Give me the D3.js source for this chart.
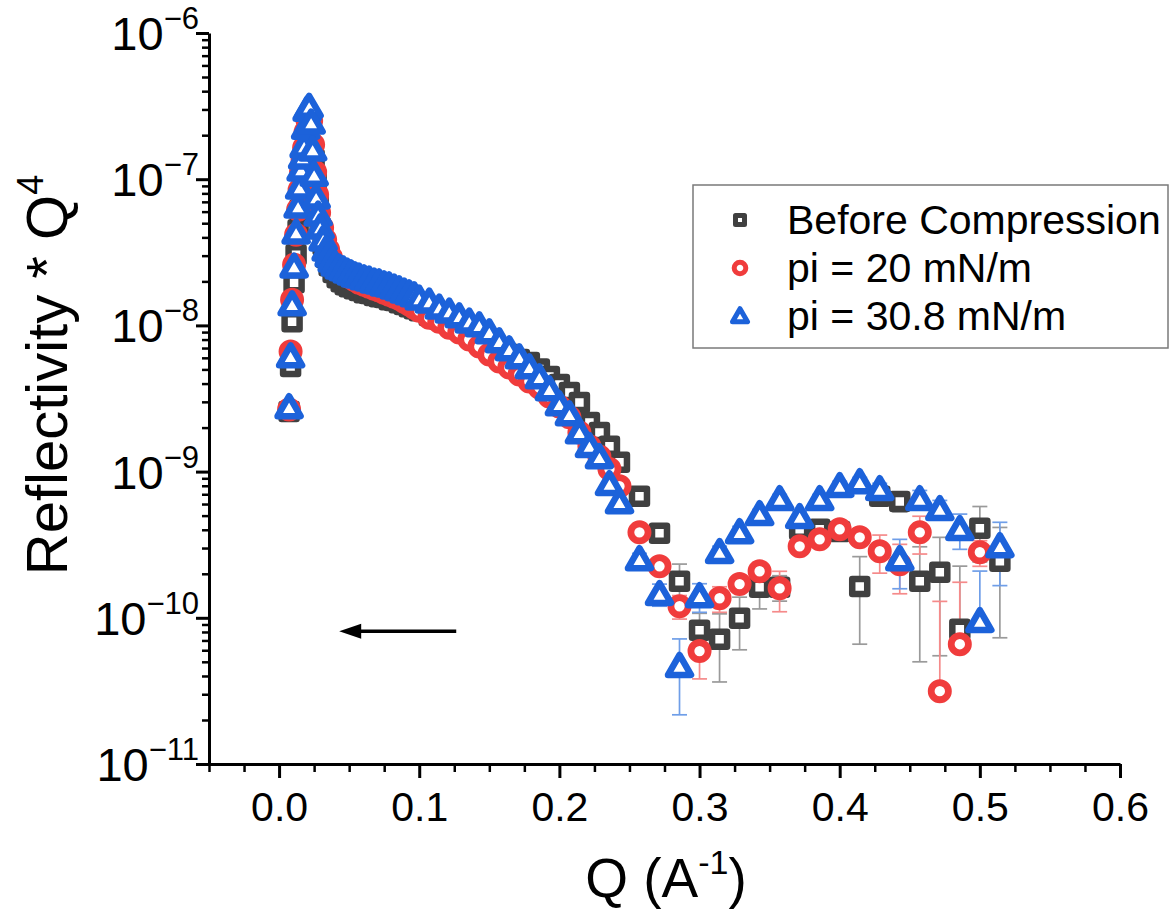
<!DOCTYPE html>
<html>
<head>
<meta charset="utf-8">
<script src="https://cdn.jsdelivr.net/npm/d3@7"></script>
<style>
  body { margin: 0; background: #fff; }
  svg { display: block; }
  text { font-family: "Liberation Sans", Arial, Helvetica, sans-serif; fill: #000; }
</style>
</head>
<body>
<svg id="chart" width="1170" height="921"></svg>
<script>
// Neutron reflectivity (R*Q^4) of the monolayer at three surface pressures.

const blackQ = [0.00714,0.00821,0.00929,0.01071,0.01214,0.01357,0.01500,0.01643,0.01786,0.01929,0.02071,0.02214,0.02357,0.02500,0.02643,0.02786,0.02929,0.03143,0.03357,0.03571,0.03857,0.04143,0.04429,0.04714,0.05000,0.05357,0.05714,0.06071,0.06429,0.06786,0.07143,0.07500,0.07857,0.08214,0.08571,0.08929,0.09286,0.09643,0.10000,0.10714,0.11429,0.12143,0.12857,0.13571,0.14286,0.15000,0.15714,0.16429,0.17143,0.17857,0.18571,0.19286,0.20000,0.20714,0.21429,0.22143,0.22857,0.23571,0.24286,
  0.25714,0.27143,0.28571,0.30000,0.31429,0.32857,0.34286,0.35714,0.37143,0.38571,0.40000,0.41429,0.42857,0.44286,0.45714,0.47143,0.48571,0.50000,0.51429];
const blackR = [2.58e-9,5.23e-9,1.06e-8,1.96e-8,3.04e-8,4.51e-8,6.18e-8,8.45e-8,1.12e-7,1.40e-7,1.59e-7,1.72e-7,1.64e-7,1.36e-7,9.80e-8,6.68e-8,4.66e-8,3.56e-8,2.91e-8,2.56e-8,2.30e-8,2.12e-8,1.99e-8,1.90e-8,1.84e-8,1.78e-8,1.73e-8,1.67e-8,1.65e-8,1.60e-8,1.57e-8,1.55e-8,1.50e-8,1.48e-8,1.43e-8,1.39e-8,1.34e-8,1.30e-8,1.26e-8,1.17e-8,1.10e-8,1.03e-8,9.51e-9,8.80e-9,8.00e-9,7.39e-9,6.83e-9,6.32e-9,5.84e-9,5.57e-9,5.04e-9,4.48e-9,3.94e-9,3.48e-9,2.97e-9,2.17e-9,1.85e-9,1.49e-9,1.16e-9,
  6.77e-10,3.78e-10,1.78e-10,8.23e-11,7.14e-11,9.94e-11,1.62e-10,1.62e-10,4.03e-10,4.03e-10,3.90e-10,1.64e-10,6.77e-10,6.25e-10,1.78e-10,2.05e-10,8.36e-11,4.09e-10,2.44e-10];

const redQ = [0.00714,0.00821,0.00929,0.01071,0.01214,0.01357,0.01464,0.01571,0.01679,0.01786,0.01893,0.02000,0.02143,0.02286,0.02429,0.02571,0.02714,0.02857,0.03071,0.03286,0.03500,0.03714,0.04000,0.04286,0.04643,0.05000,0.05357,0.05714,0.06071,0.06429,0.06786,0.07143,0.07500,0.07857,0.08214,0.08571,0.08929,0.09286,0.09643,0.10000,0.10714,0.11429,0.12143,0.12857,0.13571,0.14286,0.15000,0.15714,0.16429,0.17143,0.17857,0.18571,0.19286,0.20000,0.20714,0.21429,0.22143,0.22857,0.23571,0.24286,
  0.25714,0.27143,0.28571,0.30000,0.31429,0.32857,0.34286,0.35714,0.37143,0.38571,0.40000,0.41429,0.42857,0.44286,0.45714,0.47143,0.48571,0.50000];
const redR = [2.66e-9,6.62e-9,1.50e-8,2.60e-8,4.17e-8,6.18e-8,8.45e-8,1.12e-7,1.36e-7,1.64e-7,2.10e-7,2.58e-7,2.71e-7,2.50e-7,1.72e-7,1.12e-7,7.82e-8,5.89e-8,4.66e-8,3.86e-8,3.29e-8,2.91e-8,2.60e-8,2.41e-8,2.26e-8,2.15e-8,2.05e-8,1.96e-8,1.90e-8,1.84e-8,1.78e-8,1.73e-8,1.67e-8,1.62e-8,1.57e-8,1.52e-8,1.45e-8,1.39e-8,1.32e-8,1.26e-8,1.13e-8,1.06e-8,9.65e-9,8.93e-9,8.00e-9,7.16e-9,6.32e-9,5.66e-9,5.15e-9,4.61e-9,4.13e-9,3.76e-9,3.26e-9,2.79e-9,2.35e-9,1.85e-9,1.49e-9,1.27e-9,1.04e-9,7.94e-10,
  3.84e-10,2.25e-10,1.20e-10,5.92e-11,1.36e-10,1.70e-10,2.08e-10,1.59e-10,3.08e-10,3.44e-10,4.03e-10,3.55e-10,2.85e-10,2.32e-10,3.84e-10,3.15e-11,6.60e-11,2.81e-10];

const blueQ = [0.00714,0.00821,0.00929,0.01071,0.01214,0.01357,0.01464,0.01571,0.01679,0.01786,0.01893,0.02000,0.02143,0.02286,0.02393,0.02500,0.02643,0.02786,0.02929,0.03143,0.03357,0.03571,0.03786,0.04000,0.04286,0.04571,0.04857,0.05143,0.05429,0.05714,0.06071,0.06429,0.06786,0.07143,0.07500,0.07857,0.08214,0.08571,0.08929,0.09286,0.09643,0.10000,0.10714,0.11429,0.12143,0.12857,0.13571,0.14286,0.15000,0.15714,0.16429,0.17143,0.17857,0.18571,0.19286,0.20000,0.20714,0.21429,0.22143,0.22857,0.23571,0.24286,
  0.25714,0.27143,0.28571,0.30000,0.31429,0.32857,0.34286,0.35714,0.37143,0.38571,0.40000,0.41429,0.42857,0.44286,0.45714,0.47143,0.48571,0.50000,0.51429];
const blueR = [2.75e-9,6.12e-9,1.39e-8,2.52e-8,4.30e-8,6.48e-8,8.74e-8,1.16e-7,1.40e-7,1.67e-7,2.24e-7,2.98e-7,3.12e-7,2.43e-7,1.59e-7,1.07e-7,7.47e-8,5.71e-8,4.66e-8,3.86e-8,3.29e-8,3.00e-8,2.77e-8,2.60e-8,2.48e-8,2.41e-8,2.33e-8,2.26e-8,2.19e-8,2.15e-8,2.09e-8,2.05e-8,1.99e-8,1.96e-8,1.90e-8,1.87e-8,1.81e-8,1.76e-8,1.70e-8,1.65e-8,1.60e-8,1.52e-8,1.45e-8,1.32e-8,1.24e-8,1.15e-8,1.06e-8,9.97e-9,8.93e-9,7.75e-9,6.83e-9,6.03e-9,5.15e-9,4.40e-9,3.64e-9,2.88e-9,2.46e-9,1.85e-9,1.49e-9,1.25e-9,8.18e-10,6.16e-10,
  2.51e-10,1.45e-10,4.67e-11,1.40e-10,2.81e-10,3.84e-10,5.10e-10,6.46e-10,4.87e-10,6.46e-10,7.94e-10,8.44e-10,7.56e-10,2.51e-10,6.46e-10,5.52e-10,4.03e-10,9.47e-11,3.08e-10];

// Error bars (absolute sigma) of the high-Q points
const sparseQ = [0.25714,0.27143,0.28571,0.30000,0.31429,0.32857,0.34286,0.35714,0.37143,0.38571,0.40000,0.41429,0.42857,0.44286,0.45714,0.47143,0.48571,0.50000,0.51429];
const blackSigma = [5.4e-11,3.8e-11,5.5e-11,2.5e-11,3.5e-11,3.9e-11,4.7e-11,3.2e-11,4.0e-11,4.0e-11,4.7e-11,9.8e-11,6.8e-11,9.4e-11,1.28e-10,1.50e-10,1.42e-10,1.68e-10,1.71e-10];
const redSigma   = [2.3e-11,2.3e-11,2.2e-11,2.1e-11,2.7e-11,2.0e-11,3.1e-11,4.9e-11,2.5e-11,2.8e-11,3.2e-11,4.3e-11,8.3e-11,8.6e-11,1.11e-10,9.8e-11,1.09e-10,5.6e-11];
const blueSigma  = [2.5e-11,2.5e-11,2.5e-11,3.1e-11,2.8e-11,3.8e-11,4.1e-11,5.2e-11,4.9e-11,5.2e-11,6.4e-11,6.8e-11,7.6e-11,9.3e-11,9.7e-11,8.3e-11,1.09e-10,1.14e-10,1.42e-10];

const seriesNames = ["Before Compression", "pi = 20 mN/m", "pi = 30.8 mN/m"];
const xTickValues = [0.0, 0.1, 0.2, 0.3, 0.4, 0.5, 0.6];
const yTickExponents = [-11, -10, -9, -8, -7, -6];

// Arrow annotation (points toward lower Q)
const arrowFrom = { q: 0.1264, r: 8.1e-11 };
const arrowTo   = { q: 0.0429, r: 8.1e-11 };

// ---------------------------------------------------------------------------
const svg = d3.select("#chart");
const x = d3.scaleLinear().domain([-0.05, 0.6]).range([209, 1120]);
const y = d3.scaleLog().domain([1e-11, 1e-6]).range([764, 33]);

// Marker shapes
const squareSym = { draw(ctx, s) { const h = s / 2; ctx.rect(-h, -h, s, s); } };
const circleSym = { draw(ctx, r) { ctx.moveTo(r, 0); ctx.arc(0, 0, r, 0, 2 * Math.PI); } };
const triangleSym = { draw(ctx, side) {
  const h = side * Math.sqrt(3) / 2;
  ctx.moveTo(0, -0.56 * h);
  ctx.lineTo(side / 2, 0.44 * h);
  ctx.lineTo(-side / 2, 0.44 * h);
  ctx.closePath();
} };

const series = [
  { name: seriesNames[0], q: blackQ, r: blackR, sigma: blackSigma, color: "#404040", err: "#9a9a9a",
    sym: squareSym, size: 15, sw: 6.5, lsize: 9, lsw: 5 },
  { name: seriesNames[1], q: redQ, r: redR, sigma: redSigma, color: "#f03c3c", err: "#f58a8a",
    sym: circleSym, size: 8.6, sw: 6.8, lsize: 5.8, lsw: 5 },
  { name: seriesNames[2], q: blueQ, r: blueR, sigma: blueSigma, color: "#1c62da", err: "#6f9ee8",
    sym: triangleSym, size: 23, sw: 6.5, lsize: 15, lsw: 5 }
];

// ---- Axes ----
const axisG = svg.append("g");

// x minor ticks
const xMinor = d3.range(-0.05, 0.6001, 0.025).filter(v => Math.abs(Math.round(v * 10) - v * 10) > 1e-6);
axisG.append("g").attr("transform", "translate(0,764)")
  .call(d3.axisBottom(x).tickValues(xMinor).tickSize(8).tickSizeOuter(0).tickFormat(""))
  .call(g => g.select(".domain").remove())
  .call(g => g.selectAll("line").attr("stroke-width", 2.5));

// x major ticks and labels
axisG.append("g").attr("transform", "translate(0,764)")
  .call(d3.axisBottom(x).tickValues(xTickValues).tickSize(14).tickSizeOuter(0).tickPadding(14).tickFormat(d3.format(".1f")))
  .call(g => g.select(".domain").attr("stroke-width", 3))
  .call(g => g.selectAll("line").attr("stroke-width", 3))
  .call(g => g.selectAll("text").attr("font-size", 41).attr("font-family", "Liberation Sans, Arial, sans-serif"));

// y minor ticks
const yMinor = [];
yTickExponents.slice(0, -1).forEach(e => { for (let m = 2; m <= 9; m++) yMinor.push(m * Math.pow(10, e)); });
axisG.append("g").attr("transform", "translate(209,0)")
  .call(d3.axisLeft(y).tickValues(yMinor).tickSize(7).tickSizeOuter(0).tickFormat(""))
  .call(g => g.select(".domain").remove())
  .call(g => g.selectAll("line").attr("stroke-width", 2.5));

// y major ticks
const yMajor = yTickExponents.map(e => Math.pow(10, e));
axisG.append("g").attr("transform", "translate(209,0)")
  .call(d3.axisLeft(y).tickValues(yMajor).tickSize(13).tickSizeOuter(0).tickFormat(""))
  .call(g => g.select(".domain").attr("stroke-width", 3))
  .call(g => g.selectAll("line").attr("stroke-width", 3));

// y labels with superscript exponents
const yLab = axisG.append("g").selectAll("text").data(yTickExponents).join("text")
  .attr("x", 199).attr("y", e => y(Math.pow(10, e)) + 17)
  .attr("text-anchor", "end").attr("font-size", 47);
yLab.append("tspan").text("10");
yLab.append("tspan").attr("dy", -21).attr("font-size", 31).text(e => "\u2212" + Math.abs(e));

// axis titles
const yTitle = svg.append("text")
  .attr("transform", "translate(67,375) rotate(-90)")
  .attr("text-anchor", "middle").attr("font-size", 58);
yTitle.append("tspan").text("Reflectivity * Q");
yTitle.append("tspan").attr("dy", -24).attr("font-size", 36).text("4");

const xTitle = svg.append("text")
  .attr("x", 666).attr("y", 897)
  .attr("text-anchor", "middle").attr("font-size", 55);
xTitle.append("tspan").text("Q (A");
xTitle.append("tspan").attr("dy", -23).attr("font-size", 34).text("-1");
xTitle.append("tspan").attr("dy", 23).text(")");

// ---- Error bars ----
const errG = svg.append("g");
series.forEach(s => {
  const bars = s.sigma.map((sg, i) => {
    const idx = s.q.indexOf(sparseQ[i]);
    return { q: s.q[idx], r: s.r[idx], sg };
  });
  const g = errG.append("g").attr("stroke", s.err).attr("stroke-width", 1.7).attr("fill", "none");
  bars.forEach(b => {
    const cx = x(b.q);
    const top = y(b.r + b.sg);
    const hasLow = b.r - b.sg > 0;
    const bot = hasLow ? y(b.r - b.sg) : y(b.r);
    g.append("line").attr("x1", cx).attr("x2", cx).attr("y1", top).attr("y2", bot);
    g.append("line").attr("x1", cx - 7.5).attr("x2", cx + 7.5).attr("y1", top).attr("y2", top);
    if (hasLow) g.append("line").attr("x1", cx - 7.5).attr("x2", cx + 7.5).attr("y1", bot).attr("y2", bot);
  });
});

// ---- Markers ----
series.forEach(s => {
  const pts = s.q.map((q, i) => ({ q, r: s.r[i] }));
  const path = d3.symbol(s.sym, s.size)();
  svg.append("g").selectAll("path").data(pts).join("path")
    .attr("d", path)
    .attr("transform", d => `translate(${x(d.q)},${y(d.r)})`)
    .attr("fill", "#fff").attr("stroke", s.color).attr("stroke-width", s.sw)
    .attr("stroke-linejoin", "round");
});

// ---- Arrow ----
const ax1 = x(arrowFrom.q), ax2 = x(arrowTo.q), ay = y(arrowFrom.r);
svg.append("line").attr("x1", ax1).attr("x2", ax2 + 18).attr("y1", ay).attr("y2", ay)
  .attr("stroke", "#000").attr("stroke-width", 3.5);
svg.append("path")
  .attr("d", `M${ax2},${ay} L${ax2 + 22},${ay - 7.5} L${ax2 + 22},${ay + 7.5} Z`)
  .attr("fill", "#000");

// ---- Legend ----
const leg = svg.append("g");
leg.append("rect").attr("x", 693).attr("y", 185).attr("width", 475).attr("height", 163)
  .attr("fill", "#fff").attr("stroke", "#7a7a7a").attr("stroke-width", 1.5);
const rows = [220, 268, 316];
series.forEach((s, i) => {
  leg.append("path").attr("d", d3.symbol(s.sym, s.lsize)())
    .attr("transform", `translate(740,${rows[i]})`)
    .attr("fill", "#fff").attr("stroke", s.color).attr("stroke-width", s.lsw)
    .attr("stroke-linejoin", "round");
  leg.append("text").attr("x", 787).attr("y", rows[i] + 14)
    .attr("font-size", 41).text(s.name);
});
</script>
</body>
</html>
